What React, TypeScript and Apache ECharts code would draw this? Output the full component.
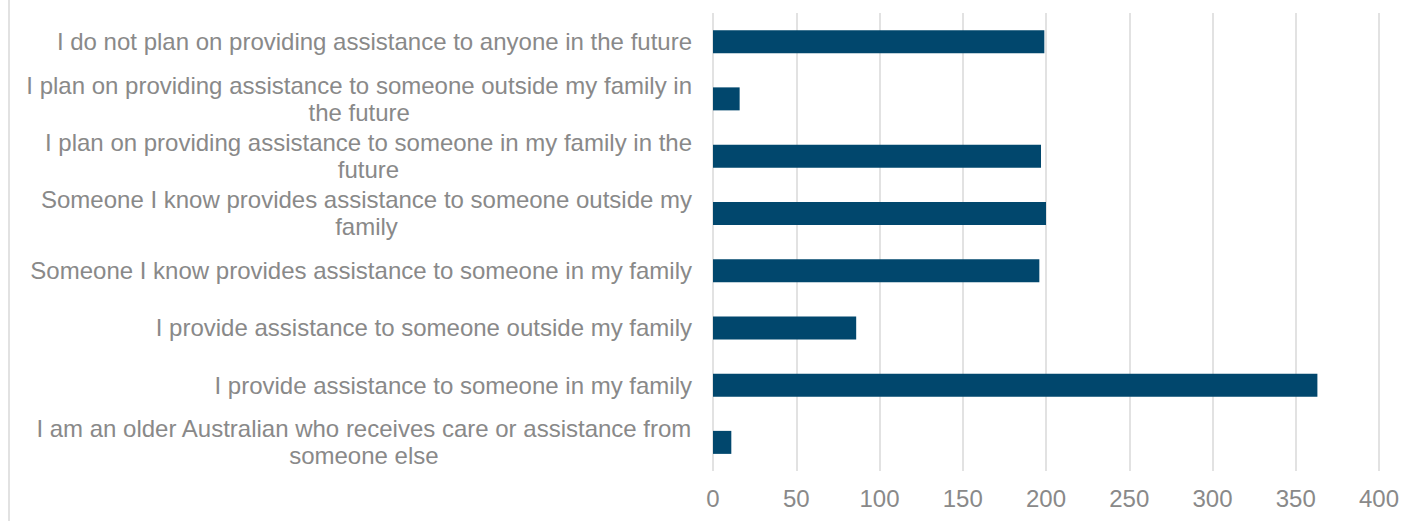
import React, { useEffect, useRef } from "react";
import * as echarts from "echarts";

const categories: string[] = [
  "I do not plan on providing assistance to anyone in the future",
  "I plan on providing assistance to someone outside my family in the future",
  "I plan on providing assistance to someone in my family in the future",
  "Someone I know provides assistance to someone outside my family",
  "Someone I know provides assistance to someone in my family",
  "I provide assistance to someone outside my family",
  "I provide assistance to someone in my family",
  "I am an older Australian who receives care or assistance from someone else",
];

const values: number[] = [199, 16, 197, 200, 196, 86, 363, 11];

const xMin = 0;
const xMax = 400;
const xInterval = 50;

const FONT = '"Liberation Sans", Arial, sans-serif';
const TEXT_COLOR = "#898989";
const BAR_COLOR = "#01476D";
const GRID_COLOR = "#d9d9d9";
const MAX_LABEL_WIDTH = 680;

function wrapLabel(text: string): string[] {
  const canvas = document.createElement("canvas");
  const ctx = canvas.getContext("2d");
  if (!ctx) return [text];
  ctx.font = `24px ${FONT}`;
  const words = text.split(" ");
  const lines: string[] = [];
  let cur = "";
  for (const w of words) {
    const test = cur ? cur + " " + w : w;
    if (ctx.measureText(test).width > MAX_LABEL_WIDTH && cur) {
      lines.push(cur);
      cur = w;
    } else {
      cur = test;
    }
  }
  if (cur) lines.push(cur);
  return lines;
}

export default function App() {
  const ref = useRef<HTMLDivElement>(null);

  useEffect(() => {
    if (!ref.current) return;
    const chart = echarts.init(ref.current, undefined, { renderer: "svg" });
    const wrapped = categories.map(wrapLabel);

    chart.setOption({
      animation: false,
      backgroundColor: "#ffffff",
      grid: { left: 713, right: 37, top: 13, bottom: 50, containLabel: false },
      xAxis: {
        type: "value",
        min: xMin,
        max: xMax,
        interval: xInterval,
        axisLine: { show: false },
        axisTick: { show: false },
        splitLine: { show: true, lineStyle: { color: GRID_COLOR, width: 1.5 } },
        axisLabel: {
          fontSize: 24,
          color: TEXT_COLOR,
          fontFamily: FONT,
          margin: 15,
        },
      },
      yAxis: {
        type: "category",
        inverse: true,
        data: categories,
        axisLine: { show: false },
        axisTick: { show: false },
        axisLabel: {
          interval: 0,
          margin: 21,
          fontSize: 24,
          color: TEXT_COLOR,
          fontFamily: FONT,
          formatter: (_v: string, idx: number) =>
            wrapped[idx].map((l) => `{c|${l}}`).join("\n"),
          rich: {
            c: {
              align: "center",
              fontSize: 24,
              lineHeight: 27,
              color: TEXT_COLOR,
              fontFamily: FONT,
            },
          },
        },
      },
      series: [
        {
          type: "bar",
          data: values,
          barWidth: 23,
          itemStyle: { color: BAR_COLOR },
        },
      ],
      graphic: [
        {
          type: "line",
          shape: { x1: 9, y1: 0, x2: 9, y2: 521 },
          style: { stroke: GRID_COLOR, lineWidth: 1.5 },
          silent: true,
        },
      ],
    });

    return () => chart.dispose();
  }, []);

  return (
    <div
      ref={ref}
      style={{ position: "absolute", left: 0, top: 0, width: 1416, height: 521 }}
    />
  );
}
